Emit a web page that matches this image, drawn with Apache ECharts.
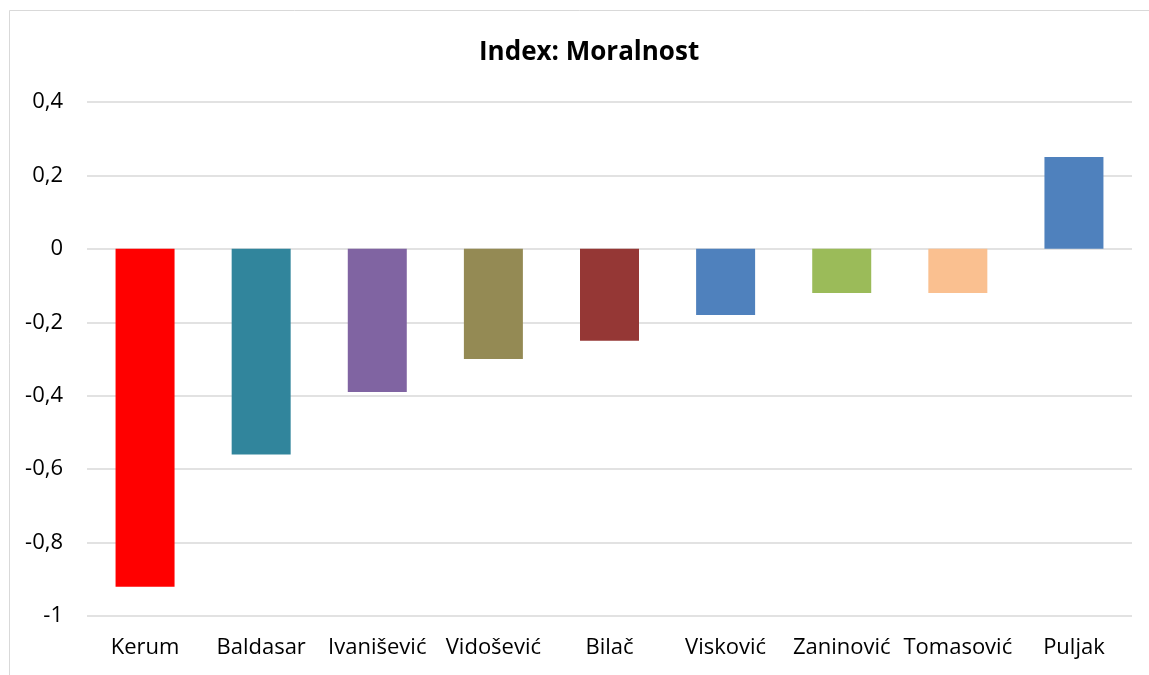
<!DOCTYPE html>
<html><head><meta charset="utf-8">
<script src="https://cdn.jsdelivr.net/npm/echarts@6/dist/echarts.min.js"></script>
<style>html,body{margin:0;padding:0;background:#fff}#c{width:1149px;height:675px}</style>
</head><body><div id="c"></div>
<script>
var categories = ['Kerum','Baldasar','Ivanišević','Vidošević','Bilač','Visković','Zaninović','Tomasović','Puljak'];
var values = [-0.92,-0.56,-0.39,-0.30,-0.25,-0.18,-0.12,-0.12,0.25];
var colors = ['#FF0000','#31859C','#8064A2','#948A54','#953735','#4F81BD','#9BBB59','#FAC090','#4F81BD'];
var chart = echarts.init(document.getElementById('c'));
chart.setOption({
  backgroundColor:'#fff',
  animation:false,
  title:{text:'Index: Moralnost',left:474,top:35,textStyle:{fontFamily:'Open Sans',fontWeight:'bold',fontSize:26,color:'#000'}},
  graphic:[{type:'rect',shape:{x:9.5,y:10.5,width:1160,height:700},style:{fill:'none',stroke:'#d9d9d9',lineWidth:1}}],
  grid:{left:87,right:17,top:102,bottom:59,containLabel:false},
  xAxis:{type:'category',data:categories,axisLine:{show:false},axisTick:{show:false},
    axisLabel:{fontFamily:'Open Sans',fontSize:22,color:'#000',margin:21,interval:0}},
  yAxis:{type:'value',min:-1,max:0.4,interval:0.2,
    axisLabel:{fontFamily:'Open Sans',fontSize:22,color:'#000',margin:24,
      formatter:function(v){return String(Math.round(v*10)/10).replace('.',',');}},
    splitLine:{lineStyle:{color:'#d9d9d9',width:1.5}},axisLine:{show:false},axisTick:{show:false}},
  series:[{type:'bar',barWidth:59,data:values.map(function(v,i){return {value:v,itemStyle:{color:colors[i]}};})}]
});
</script></body></html>
